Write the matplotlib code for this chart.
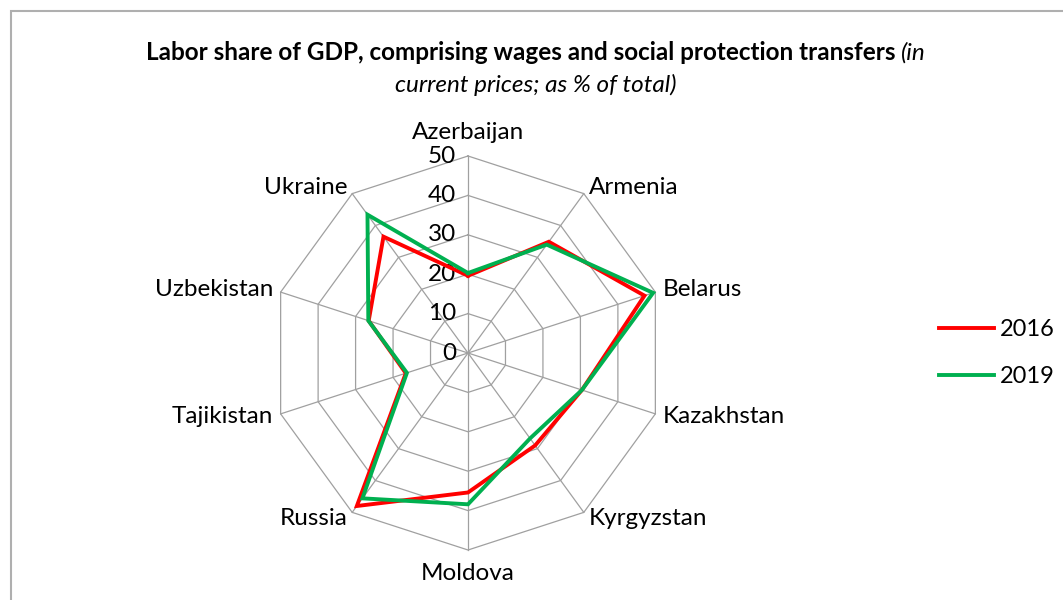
import matplotlib
matplotlib.use("Agg")
import matplotlib.pyplot as plt
from matplotlib.patches import Rectangle
import numpy as np

countries = ["Azerbaijan", "Armenia", "Belarus", "Kazakhstan", "Kyrgyzstan",
             "Moldova", "Russia", "Tajikistan", "Uzbekistan", "Ukraine"]
share_2016 = [19.6, 34.9, 47.1, 30.4, 29.0, 35.4, 48.0, 16.6, 26.5, 36.5]
share_2019 = [20.3, 34.0, 49.4, 30.4, 26.8, 38.4, 45.6, 16.3, 26.6, 43.4]
rings = [0, 10, 20, 30, 40, 50]
years = ["2016", "2019"]
colors = ["#FF0000", "#00B050"]

plt.rcParams['font.family'] = ['Lato', 'DejaVu Sans']

W, H = 1063, 600
cx, cy, rad = 468, 353, 197  # centre and outer ring radius in pixels
scale = rad / rings[-1]
FS = 17.5


def to_xy(values):
	n = len(values)
	ang = np.arange(n) * 2 * np.pi / n
	v = np.asarray(values, dtype=float)
	x = v * np.sin(ang)
	y = v * np.cos(ang)
	return np.append(x, x[0]), np.append(y, y[0])


fig = plt.figure(figsize=(W / 100, H / 100), dpi=100)
ax = fig.add_axes([0, 0, 1, 1])
ax.set_xlim(-cx / scale, (W - cx) / scale)
ax.set_ylim(-(H - cy) / scale, cy / scale)
ax.axis("off")

# outer chart border (only left and top edges fall inside the image)
fig.patches.append(Rectangle((10.5 / W, -0.1), 1.2, 1.1 - 10.5 / H, transform=fig.transFigure,
	fill=False, edgecolor="#AFAFAF", linewidth=1.5))

# decagon grid and spokes
n = len(countries)
for r in rings[1:]:
	gx, gy = to_xy([r] * n)
	ax.plot(gx, gy, color="#A0A0A0", lw=0.9, zorder=1)
sx, sy = to_xy([rings[-1]] * n)
for x, y in zip(sx[:-1], sy[:-1]):
	ax.plot([0, x], [0, y], color="#A0A0A0", lw=0.9, zorder=1)

# radial tick labels
for r in rings:
	ax.text(-3.0, r, str(r), ha="right", va="center", fontsize=FS, color="#000000")

# category labels
ang = np.arange(n) * 2 * np.pi / n
for name, a in zip(countries, ang):
	s, c = np.sin(a), np.cos(a)
	if abs(s) < 0.1:
		rr = 53.4
		ha = "center"
		va = "bottom" if c > 0 else "top"
	else:
		rr = 52
		ha = "left" if s > 0 else "right"
		va = "center"
	ax.text(rr * s, rr * c, name, ha=ha, va=va, fontsize=FS)

# data series
for vals, lab, col in zip([share_2016, share_2019], years, colors):
	px, py = to_xy(vals)
	ax.plot(px, py, color=col, lw=2.8, label=lab, zorder=3, solid_joinstyle="miter")

# legend
leg = fig.legend(loc="center left", bbox_to_anchor=(918 / W, 1 - 353 / H), frameon=False,
	fontsize=17, handlelength=2.3, handletextpad=0.25, labelspacing=1.1)

# two-part title: bold text followed by italic note
fig.canvas.draw()
r = fig.canvas.get_renderer()
t1 = fig.text(0, 1 - 53 / H, "Labor share of GDP, comprising wages and social protection transfers ",
	fontsize=17.5, fontweight="bold", va="center", ha="left")
t2 = fig.text(0, 1 - 53 / H, "(in", fontsize=17.5, style="italic", va="center", ha="left")
w1 = t1.get_window_extent(r).width
w2 = t2.get_window_extent(r).width
x0 = 536 - (w1 + w2) / 2
t1.set_x(x0 / W)
t2.set_x((x0 + w1) / W)
fig.text(536 / W, 1 - 85 / H, "current prices; as % of total)", fontsize=17.5, style="italic",
	va="center", ha="center")

fig.savefig("out.png", dpi=100)
